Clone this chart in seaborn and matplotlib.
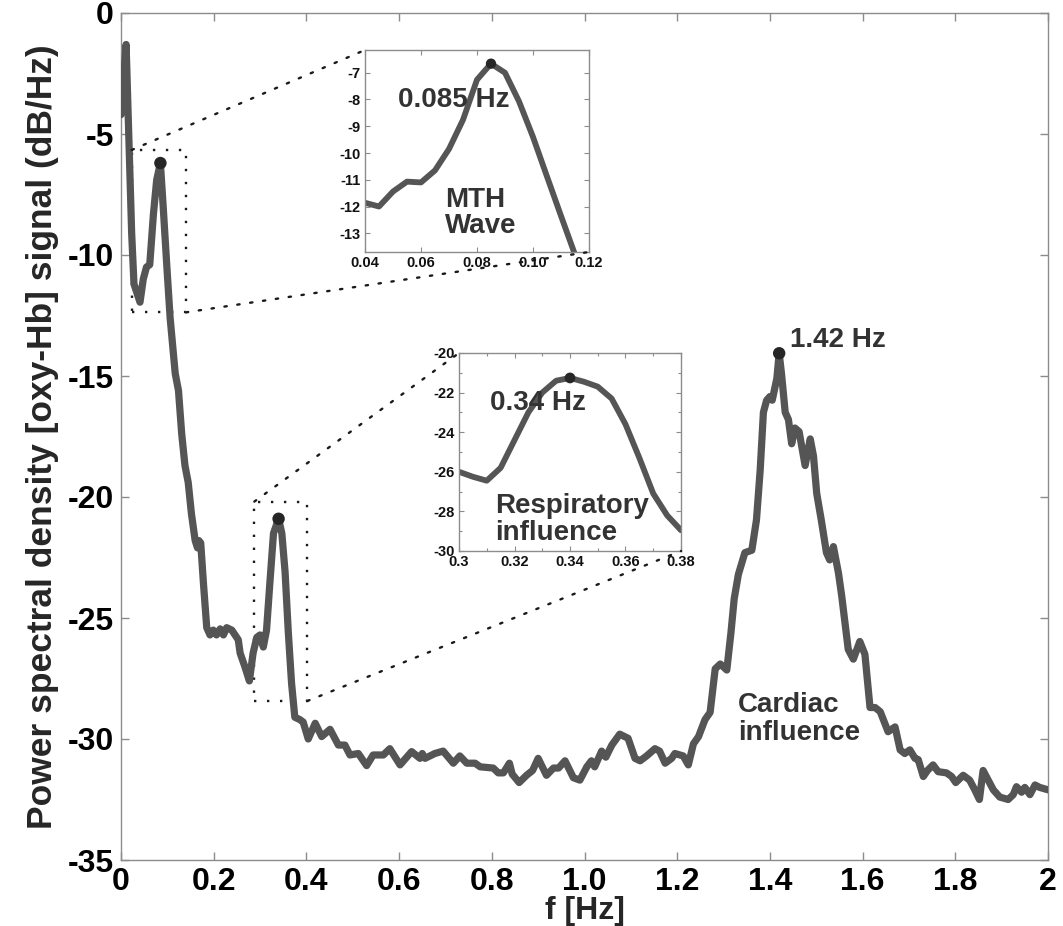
import matplotlib
matplotlib.use("Agg")
import matplotlib.pyplot as plt
import numpy as np
import pandas as pd
import seaborn as sns
from matplotlib.patches import Rectangle, ConnectionPatch
from matplotlib.ticker import FixedLocator

# ---------------- data ----------------
freq = [0.000, 0.011, 0.023, 0.028, 0.041, 0.048, 0.055, 0.062, 0.070, 0.077,
        0.085, 0.091, 0.099, 0.106, 0.117, 0.124, 0.131, 0.138, 0.145, 0.152,
        0.160, 0.165, 0.168, 0.172, 0.178, 0.185, 0.192, 0.199, 0.206, 0.214,
        0.221, 0.228, 0.239, 0.246, 0.253, 0.257, 0.267, 0.277, 0.285, 0.293,
        0.300, 0.307, 0.314, 0.321, 0.329, 0.340, 0.347, 0.354, 0.361, 0.368,
        0.375, 0.386, 0.393, 0.404, 0.419, 0.433, 0.451, 0.469, 0.483, 0.494,
        0.512, 0.530, 0.544, 0.566, 0.580, 0.602, 0.627, 0.645, 0.650, 0.656,
        0.677, 0.695, 0.717, 0.731, 0.746, 0.764, 0.775, 0.803, 0.814, 0.825,
        0.838, 0.844, 0.859, 0.875, 0.888, 0.900, 0.918, 0.933, 0.944, 0.958,
        0.976, 0.990, 1.005, 1.015, 1.022, 1.037, 1.046, 1.059, 1.076, 1.094,
        1.109, 1.120, 1.134, 1.152, 1.162, 1.174, 1.188, 1.195, 1.213, 1.224,
        1.235, 1.246, 1.260, 1.271, 1.282, 1.293, 1.307, 1.316, 1.323, 1.332,
        1.346, 1.361, 1.371, 1.379, 1.386, 1.393, 1.400, 1.405, 1.415, 1.420,
        1.425, 1.433, 1.440, 1.447, 1.454, 1.463, 1.476, 1.487, 1.494, 1.501,
        1.511, 1.522, 1.529, 1.537, 1.548, 1.555, 1.562, 1.569, 1.580, 1.594,
        1.605, 1.616, 1.627, 1.638, 1.655, 1.670, 1.681, 1.691, 1.702, 1.713,
        1.720, 1.731, 1.740, 1.752, 1.763, 1.781, 1.792, 1.801, 1.817, 1.831,
        1.842, 1.852, 1.860, 1.871, 1.882, 1.896, 1.914, 1.925, 1.932, 1.943,
        1.950, 1.961, 1.972, 1.982, 2.000]
psd = [-4.2, -1.3, -9.1, -11.2, -11.95, -11.0, -10.5, -10.4, -8.3, -6.9,
       -6.2, -8.0, -10.5, -12.6, -14.9, -15.6, -17.4, -18.7, -19.4, -20.7,
       -21.8, -22.1, -21.8, -21.9, -23.6, -25.4, -25.7, -25.5, -25.7, -25.45,
       -25.7, -25.4, -25.5, -25.7, -25.9, -26.45, -27.0, -27.6, -26.45, -25.8,
       -25.7, -26.2, -25.5, -23.6, -21.5, -20.9, -21.5, -23.1, -25.6, -27.7,
       -29.1, -29.2, -29.3, -30.0, -29.35, -29.9, -29.6, -30.25, -30.25, -30.66,
       -30.6, -31.1, -30.66, -30.66, -30.4, -31.07, -30.52, -30.8, -30.6, -30.8,
       -30.6, -30.5, -31.0, -30.7, -31.0, -31.0, -31.15, -31.2, -31.4, -31.4,
       -31.0, -31.45, -31.8, -31.5, -31.3, -30.8, -31.5, -31.2, -31.2, -30.9,
       -31.6, -31.7, -31.15, -30.9, -31.15, -30.5, -30.75, -30.25, -29.8, -29.97,
       -30.8, -30.9, -30.7, -30.4, -30.5, -31.0, -30.8, -30.6, -30.7, -31.07,
       -30.2, -29.9, -29.2, -28.9, -27.1, -26.9, -27.15, -25.6, -24.2, -23.2,
       -22.3, -22.2, -20.95, -18.9, -16.5, -16.0, -15.85, -16.0, -15.1, -14.06,
       -14.9, -16.5, -16.8, -17.8, -17.15, -17.3, -18.7, -17.6, -18.3, -19.85,
       -20.97, -22.3, -22.6, -22.05, -23.15, -24.1, -25.2, -26.3, -26.7, -25.97,
       -26.5, -28.7, -28.7, -28.87, -29.7, -29.5, -30.45, -30.6, -30.45, -30.8,
       -30.85, -31.55, -31.3, -31.07, -31.35, -31.4, -31.55, -31.8, -31.5, -31.7,
       -32.1, -32.5, -31.3, -31.7, -32.1, -32.4, -32.5, -32.3, -31.97, -32.2,
       -32.0, -32.3, -31.9, -32.0, -32.1]

mth_freq = [0.040, 0.045, 0.050, 0.055, 0.060, 0.065, 0.070, 0.075, 0.080,
            0.085, 0.090, 0.095, 0.100, 0.105, 0.110, 0.115, 0.120]
mth_psd = [-11.86, -12.0, -11.44, -11.07, -11.1, -10.65, -9.85, -8.76, -7.26,
           -6.66, -7.0, -8.07, -9.4, -10.88, -12.35, -13.8, -15.3]

resp_freq = [0.300, 0.305, 0.310, 0.315, 0.320, 0.325, 0.330, 0.335, 0.340,
             0.345, 0.350, 0.355, 0.360, 0.365, 0.370, 0.375, 0.380]
resp_psd = [-26.0, -26.25, -26.45, -25.8, -24.4, -23.0, -22.0, -21.4, -21.26,
            -21.45, -21.7, -22.3, -23.6, -25.3, -27.1, -28.2, -28.95]

peak_freq = [0.085, 0.34, 1.42]
peak_psd = [-6.2, -20.9, -14.06]
mth_peak_freq = [0.085]
mth_peak_psd = [-6.66]
resp_peak_freq = [0.34]
resp_peak_psd = [-21.26]

x_ticks = [0, 0.2, 0.4, 0.6, 0.8, 1.0, 1.2, 1.4, 1.6, 1.8, 2.0]
x_tick_labels = ["0", "0.2", "0.4", "0.6", "0.8", "1.0", "1.2", "1.4", "1.6", "1.8", "2"]
y_ticks = [0, -5, -10, -15, -20, -25, -30, -35]
y_tick_labels = ["0", "-5", "-10", "-15", "-20", "-25", "-30", "-35"]

mth_xticks = [0.04, 0.06, 0.08, 0.10, 0.12]
mth_xlabels = ["0.04", "0.06", "0.08", "0.10", "0.12"]
mth_yticks = [-7, -8, -9, -10, -11, -12, -13]
mth_ylabels = ["-7", "-8", "-9", "-10", "-11", "-12", "-13"]

resp_xticks = [0.30, 0.32, 0.34, 0.36, 0.38]
resp_xlabels = ["0.3", "0.32", "0.34", "0.36", "0.38"]
resp_yticks = [-20, -22, -24, -26, -28, -30]
resp_ylabels = ["-20", "-22", "-24", "-26", "-28", "-30"]

# ---------------- style ----------------
sns.set_style("ticks")
plt.rcParams["font.family"] = ["Liberation Sans", "DejaVu Sans"]
plt.rcParams["font.weight"] = "bold"
plt.rcParams["axes.unicode_minus"] = False

LINE = "#555555"
DOT = "#262626"
TXT = "#333333"
SPINE = "#8c8c8c"
DOTTED = (0, (1, 4.5))

W, H = 1063, 926
fig = plt.figure(figsize=(W / 100, H / 100), dpi=100)
ax = fig.add_axes([121 / W, 1 - 860 / H, 927 / W, 847 / H])

df = pd.DataFrame({"f": freq, "psd": psd})
sns.lineplot(data=df, x="f", y="psd", ax=ax, color=LINE, linewidth=5.2,
             estimator=None, sort=False, zorder=3)
sns.scatterplot(x=peak_freq, y=peak_psd, ax=ax, s=80, color=DOT,
                edgecolor="none", legend=False, zorder=5)

ax.set_xlim(0, 2)
ax.set_ylim(-35, 0)
ax.set_xticks(x_ticks)
ax.set_xticklabels(x_tick_labels, fontweight="bold")
ax.set_yticks(y_ticks)
ax.set_yticklabels(y_tick_labels, fontweight="bold")
ax.tick_params(direction="in", length=6, width=1, color=SPINE, top=True,
               right=True, labelsize=23, pad=5, labelcolor="black")
for s in ax.spines.values():
    s.set_color(SPINE)
    s.set_linewidth(1)
ax.set_xlabel("f [Hz]", fontsize=23, fontweight="bold", labelpad=-1)
ax.set_ylabel("Power spectral density [oxy-Hb] signal (dB/Hz)", fontsize=25.5,
              fontweight="bold", labelpad=6)

# dotted zoom rectangles
r1 = (0.023, 0.140, -12.37, -5.66)
r2 = (0.2876, 0.402, -28.43, -20.19)
for (x0, x1, y0, y1) in (r1, r2):
    ax.add_patch(Rectangle((x0, y0), x1 - x0, y1 - y0, fill=False,
                           linestyle=DOTTED, linewidth=1.7, edgecolor="#1a1a1a",
                           zorder=2))

ax.text(1.443, -13.8, "1.42 Hz", fontsize=20, fontweight="bold", color=TXT)
ax.text(1.331, -28.88, "Cardiac", fontsize=20, fontweight="bold", color=TXT)
ax.text(1.331, -30.04, "influence", fontsize=20, fontweight="bold", color=TXT)

# ---------------- inset 1: MTH wave ----------------
ax1 = fig.add_axes([365 / W, 1 - 252 / H, 224 / W, 202 / H])
sns.lineplot(x=mth_freq, y=mth_psd, ax=ax1, color=LINE, linewidth=4.2,
             estimator=None, sort=False)
sns.scatterplot(x=mth_peak_freq, y=mth_peak_psd, ax=ax1, s=55, color=DOT,
                edgecolor="none", legend=False, zorder=5)
ax1.set_xlim(0.04, 0.12)
ax1.set_ylim(-13.7, -6.15)
ax1.set_xticks(mth_xticks)
ax1.set_xticklabels(mth_xlabels, fontweight="bold")
ax1.set_yticks(mth_yticks)
ax1.set_yticklabels(mth_ylabels, fontweight="bold")
ax1.text(0.0518, -8.27, "0.085 Hz", fontsize=20, fontweight="bold", color=TXT)
ax1.text(0.0686, -12.02, "MTH", fontsize=20, fontweight="bold", color=TXT)
ax1.text(0.0686, -12.99, "Wave", fontsize=20, fontweight="bold", color=TXT)

# ---------------- inset 2: respiratory ----------------
ax2 = fig.add_axes([459 / W, 1 - 551 / H, 222 / W, 198 / H])
sns.lineplot(x=resp_freq, y=resp_psd, ax=ax2, color=LINE, linewidth=4.2,
             estimator=None, sort=False)
sns.scatterplot(x=resp_peak_freq, y=resp_peak_psd, ax=ax2, s=60, color=DOT,
                edgecolor="none", legend=False, zorder=5)
ax2.set_xlim(0.30, 0.38)
ax2.set_ylim(-30, -20)
ax2.set_xticks(resp_xticks)
ax2.set_xticklabels(resp_xlabels, fontweight="bold")
ax2.set_yticks(resp_yticks)
ax2.set_yticklabels(resp_ylabels, fontweight="bold")
ax2.yaxis.set_minor_locator(FixedLocator([-21, -23, -25, -27, -29]))
ax2.xaxis.set_minor_locator(FixedLocator([0.31, 0.33, 0.35, 0.37]))
ax2.text(0.3111, -22.89, "0.34 Hz", fontsize=20, fontweight="bold", color=TXT)
ax2.text(0.3129, -28.1, "Respiratory", fontsize=20, fontweight="bold", color=TXT)
ax2.text(0.3129, -29.46, "influence", fontsize=20, fontweight="bold", color=TXT)

for a in (ax1, ax2):
    a.set_xlabel("")
    a.set_ylabel("")
    a.set_facecolor("white")
    a.tick_params(which="both", direction="in", top=True, right=True,
                  color=SPINE, width=0.8, labelsize=10.5, pad=3,
                  labelcolor="#111111")
    a.tick_params(which="major", length=3.5)
    a.tick_params(which="minor", length=2.5)
    for s in a.spines.values():
        s.set_color(SPINE)
        s.set_linewidth(1)

# ---------------- connector lines ----------------
conns = [((r1[0], r1[3]), ax1, (0, 1)),
         ((r1[1], r1[2]), ax1, (1, 0)),
         ((r2[0], r2[3]), ax2, (0, 1)),
         ((r2[1], r2[2]), ax2, (1, 0))]
for xyA, axB, xyB in conns:
    cp = ConnectionPatch(xyA=xyA, coordsA=ax.transData, xyB=xyB,
                         coordsB=axB.transAxes, linestyle=DOTTED,
                         linewidth=1.7, color="#1a1a1a")
    fig.add_artist(cp)

fig.savefig("out.png", dpi=100)
